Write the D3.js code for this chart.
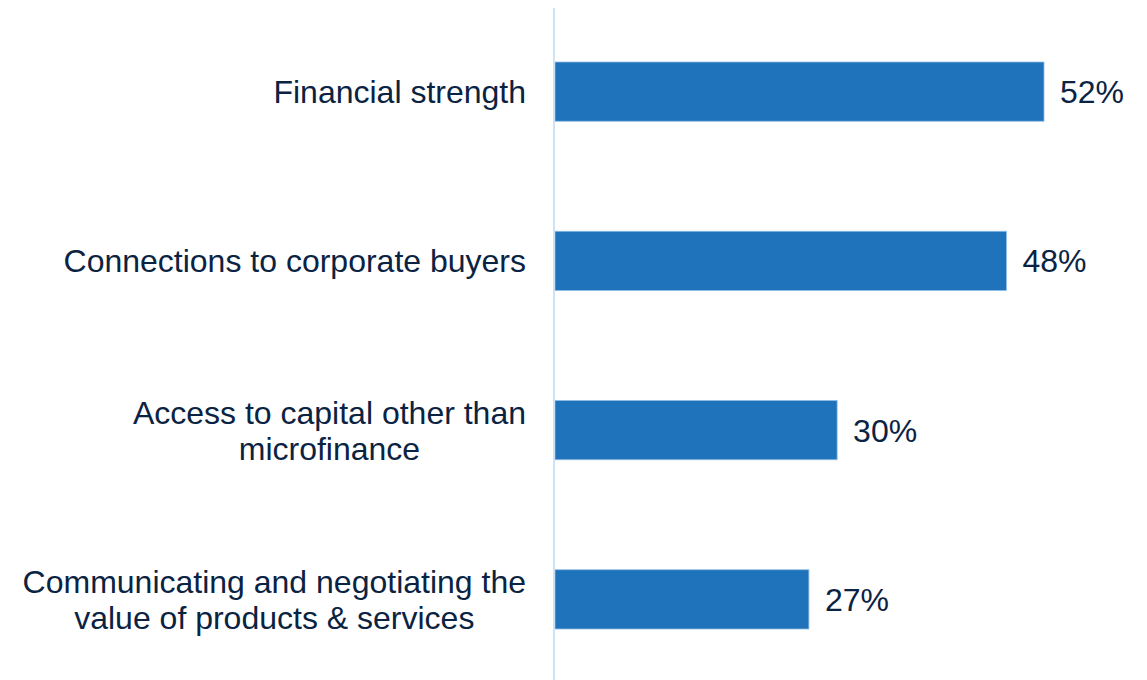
<!DOCTYPE html>
<html>
<head>
<meta charset="utf-8">
<script src="https://cdn.jsdelivr.net/npm/d3@7"></script>
<style>
  html, body { margin: 0; padding: 0; background: #ffffff; }
  svg { display: block; }
</style>
</head>
<body>
<svg id="chart" width="1147" height="680"></svg>
<script>
// Share of respondents citing each factor
const categories = [
  ["Financial strength"],
  ["Connections to corporate buyers"],
  ["Access to capital other than", "microfinance"],
  ["Communicating and negotiating the", "value of products & services"]
];
const values = [52, 48, 30, 27];

const svg = d3.select("#chart");
const axisX = 554;
const labelRight = 526;
const fontSize = 32;
const lineGap = 36;
const textColor = "#0b2342";

const x = d3.scaleLinear().domain([0, 52]).range([axisX + 1, axisX + 1 + 489]);
const y = d3.scaleBand()
  .domain(d3.range(categories.length))
  .range([7, 684])
  .paddingInner(0.65)
  .paddingOuter(0.325);

// Bars
svg.append("g").selectAll("rect")
  .data(values)
  .join("rect")
  .attr("x", x(0))
  .attr("y", (d, i) => y(i))
  .attr("width", d => x(d) - x(0))
  .attr("height", y.bandwidth())
  .attr("fill", "#1f73ba")
  .attr("stroke", "#8fbce6")
  .attr("stroke-width", 0.8);

// Vertical category axis line
svg.append("line")
  .attr("x1", axisX).attr("x2", axisX)
  .attr("y1", 8).attr("y2", 680)
  .attr("stroke", "#c4dcf4")
  .attr("stroke-width", 1.6);

// Value labels
svg.append("g").selectAll("text")
  .data(values)
  .join("text")
  .attr("x", d => x(d) + 16)
  .attr("y", (d, i) => y(i) + y.bandwidth() / 2)
  .attr("dy", "0.36em")
  .attr("font-family", "Liberation Sans, Arial, sans-serif")
  .attr("font-size", fontSize)
  .attr("fill", textColor)
  .text(d => d + "%");

// Category labels: right-aligned block, lines centred within it
const labels = svg.append("g")
  .attr("font-family", "Liberation Sans, Arial, sans-serif")
  .attr("font-size", fontSize)
  .attr("fill", textColor);

categories.forEach((lines, i) => {
  const cy = y(i) + y.bandwidth() / 2;
  const t = labels.append("text").attr("text-anchor", "middle");
  const spans = lines.map((ln, k) =>
    t.append("tspan")
      .attr("y", cy + (k - (lines.length - 1) / 2) * lineGap)
      .attr("dy", "0.36em")
      .text(ln)
  );
  const maxW = d3.max(spans, s => s.node().getComputedTextLength());
  spans.forEach(s => s.attr("x", labelRight - maxW / 2));
});
</script>
</body>
</html>
